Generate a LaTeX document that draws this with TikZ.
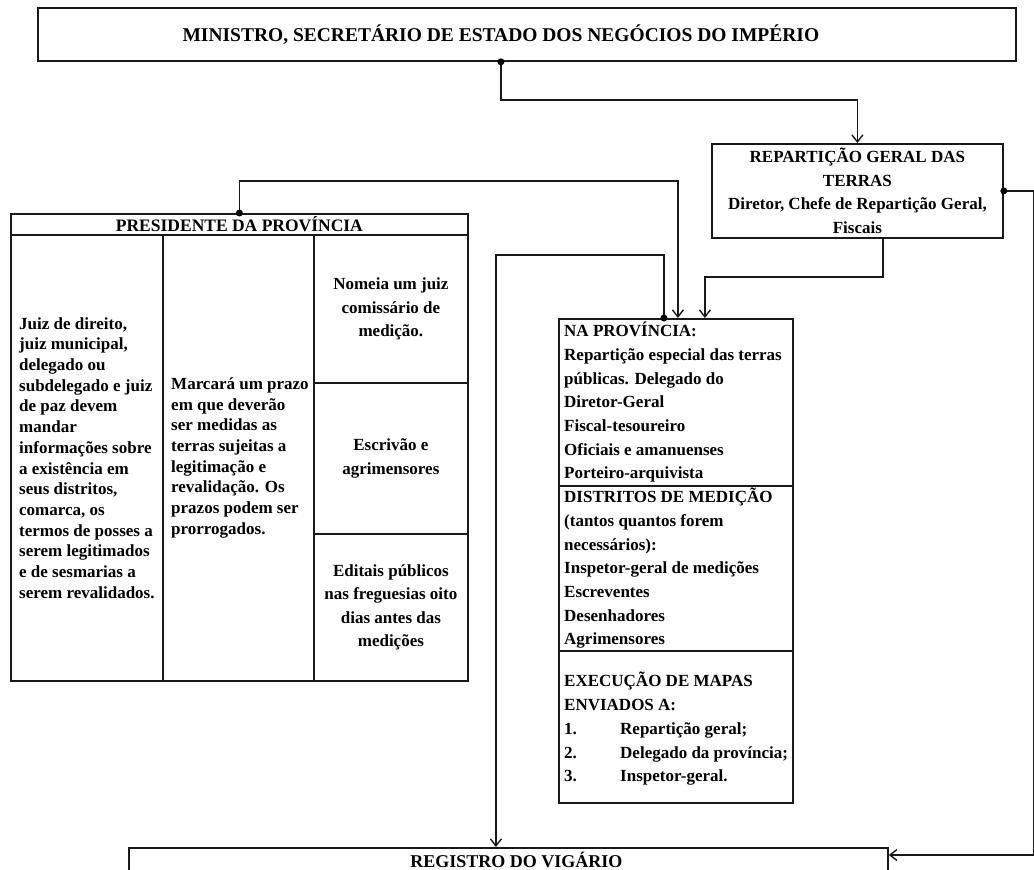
\documentclass[tikz,border=0pt]{standalone}
\usepackage{fontspec}
\setmainfont{Liberation Serif}
\usetikzlibrary{arrows.meta,calc}
\begin{document}
\begin{tikzpicture}[x=1pt,y=-1pt,
  box/.style={draw=black!90, line width=1.8pt, rectangle, inner sep=0pt, anchor=north west},
  conn/.style={line width=1.4pt, draw=black!90},
  tipv/.style={-{Straight Barb[length=7pt,width=11pt]}},
  dotc/.style={fill=black, draw=none, circle, minimum size=7pt, inner sep=0pt},
  body/.style={font=\bfseries\fontsize{17}{20.7}\selectfont, inner sep=0pt, align=left},
  bodyc/.style={font=\bfseries\fontsize{17}{23.5}\selectfont, inner sep=0pt, align=center},
  provtx/.style={font=\bfseries\fontsize{17}{23.7}\selectfont, inner sep=0pt, align=left},
  hdr/.style={font=\bfseries\fontsize{17.5}{21}\selectfont, inner sep=0pt},
  ttl/.style={font=\bfseries\fontsize{19.5}{22}\selectfont, inner sep=0pt}]
\useasboundingbox (0,0) rectangle (1034,870);
\clip (0,0) rectangle (1034,870);

% top box
\node[box, minimum width=978pt, minimum height=53pt] (min) at (37,7) {};
\node[ttl] (mint) at ([xshift=-26pt]min.center) {MINISTRO, SECRETÁRIO DE ESTADO DOS NEGÓCIOS DO IMPÉRIO};

% reparticao geral
\node[box, minimum width=291pt, minimum height=94pt] (rep) at (711,143) {};
\node[bodyc, font=\bfseries\fontsize{17}{23.7}\selectfont] (rept) at (rep.center) {REPARTIÇÃO GERAL DAS\\TERRAS\\Diretor, Chefe de Repartição Geral,\\Fiscais};

% presidente table
\node[box, minimum width=457pt, minimum height=21pt] (pres) at (10,213) {};
\node[hdr] (prest) at (pres.center) {PRESIDENTE DA PROVÍNCIA};
\node[box, minimum width=152pt, minimum height=446pt] (c1) at (10,234) {};
\node[box, minimum width=151pt, minimum height=446pt] (c2) at (162,234) {};
\node[box, minimum width=154pt, minimum height=148pt] (c3a) at (313,234) {};
\node[box, minimum width=154pt, minimum height=151pt] (c3b) at (313,382) {};
\node[box, minimum width=154pt, minimum height=147pt] (c3c) at (313,533) {};

\node[body, anchor=west] (c1t) at ([xshift=9pt]c1.west) {Juiz de direito,\\juiz municipal,\\delegado ou\\subdelegado e juiz\\de paz devem\\mandar\\informações sobre\\a existência em\\seus distritos,\\comarca, os\\termos de posses a\\serem legitimados\\e de sesmarias a\\serem revalidados.};
\node[body, anchor=west] (c2t) at ([xshift=9pt]c2.west) {Marcará um prazo\\em que deverão\\ser medidas as\\terras sujeitas a\\legitimação e\\revalidação. Os\\prazos podem ser\\prorrogados.};
\node[bodyc] (c3at) at (c3a.center) {Nomeia um juiz\\comissário de\\medição.};
\node[bodyc] (c3bt) at (c3b.center) {Escrivão e\\agrimensores};
\node[bodyc] (c3ct) at (c3c.center) {Editais públicos\\nas freguesias oito\\dias antes das\\medições};

% na provincia
\node[box, minimum width=234pt, minimum height=167pt] (prov) at (558,318) {};
\node[box, minimum width=234pt, minimum height=165pt] (dist) at (558,485) {};
\node[box, minimum width=234pt, minimum height=152pt] (exec) at (558,650) {};
\node[provtx, anchor=west] (provt) at ([xshift=6pt]prov.west) {NA PROVÍNCIA:\\Repartição especial das terras\\públicas. Delegado do\\Diretor-Geral\\Fiscal-tesoureiro\\Oficiais e amanuenses\\Porteiro-arquivista};
\node[provtx, anchor=west] (distt) at ([xshift=6pt]dist.west) {DISTRITOS DE MEDIÇÃO\\(tantos quantos forem\\necessários):\\Inspetor-geral de medições\\Escreventes\\Desenhadores\\Agrimensores};
\node[provtx, anchor=west] (exect) at ([xshift=6pt,yshift=-2pt]exec.west) {EXECUÇÃO DE MAPAS\\ENVIADOS A:\\\makebox[56pt][l]{1.}Repartição geral;\\\makebox[56pt][l]{2.}Delegado da província;\\\makebox[56pt][l]{3.}Inspetor-geral.};

% registro
\node[box, minimum width=759pt, minimum height=60pt] (reg) at (128,847) {};
\node[hdr, font=\bfseries\fontsize{18}{21}\selectfont] (regt) at ([xshift=8pt,yshift=-12.5pt]reg.north) {REGISTRO DO VIGÁRIO};

% connectors
\draw[conn, tipv] ([xshift=-26pt]min.south) -- ++(0,38) -| (rep.north);
\node[dotc] (d1) at ([xshift=-26pt]min.south) {};
\draw[conn, tipv] (rep.east) -- ++(30,0) |- ([yshift=-8pt]reg.north east);
\node[dotc] (d2) at (rep.east) {};
\draw[conn, tipv] ([xshift=25.5pt]rep.south) -- ++(0,38) -| ([xshift=29pt]prov.north);
\draw[conn, tipv] (pres.north) -- ++(0,-32) -| ([xshift=2pt]prov.north);
\node[dotc] (d3) at (pres.north) {};
\draw[conn, tipv] ([xshift=-12pt]prov.north) -- ++(0,-63) -| ([xshift=-12.5pt]reg.north);
\node[dotc] (d4) at ([xshift=-12pt]prov.north) {};
\end{tikzpicture}
\end{document}
